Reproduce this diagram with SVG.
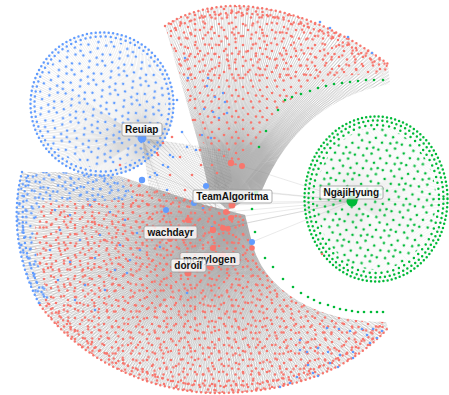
<svg xmlns="http://www.w3.org/2000/svg" width="449" height="395" viewBox="0 0 449 395">
<style>
  .fan{fill:none;stroke:#808080;stroke-opacity:.3}
  .gfan{fill:none;stroke:#8a8a8a;stroke-opacity:.17}
  .rim{fill:none;stroke-width:2.5;stroke-linecap:round}
  .edge{stroke:#8a8a8a;stroke-opacity:.4;stroke-width:.45}
  .r{fill:#F8766D} .b{fill:#619CFF} .g{fill:#00BA38}
  .rs{stroke:#F8766D} .bs{stroke:#619CFF} .gs{stroke:#00BA38}
  .lbl rect{fill:#fff;fill-opacity:.78;stroke:#9a9a9a;stroke-width:.8}
  .lbl text{font-family:"Liberation Sans",Arial,sans-serif;font-size:10px;font-weight:bold;fill:#111}
</style>
<defs>
  <!-- irregular dot tiles -->
  <g id="dA"><circle cx="3" cy="3" r="1.3"/><circle cx="13" cy="2.5" r="1.3"/><circle cx="20" cy="6" r="1.3"/><circle cx="8" cy="9" r="1.3"/><circle cx="16" cy="11.5" r="1.3"/><circle cx="22.5" cy="12" r="1.3"/><circle cx="3" cy="15" r="1.3"/><circle cx="11" cy="17.5" r="1.3"/><circle cx="19.5" cy="17.5" r="1.3"/></g>
  <g id="dB"><circle cx="5" cy="4" r="1.3"/><circle cx="17" cy="2.5" r="1.3"/><circle cx="26" cy="8" r="1.3"/><circle cx="19" cy="8" r="1.3"/><circle cx="11" cy="12" r="1.3"/><circle cx="22" cy="15" r="1.3"/><circle cx="8" cy="17.5" r="1.3"/><circle cx="3.5" cy="22" r="1.3"/><circle cx="14" cy="24" r="1.3"/><circle cx="28" cy="23.5" r="1.3"/></g>
  <pattern id="pAr" width="24" height="21" patternUnits="userSpaceOnUse"><use href="#dA" fill="#F8766D"/></pattern>
  <pattern id="pBr" width="31" height="27" patternUnits="userSpaceOnUse" patternTransform="rotate(13)"><use href="#dB" fill="#F8766D"/></pattern>
  <pattern id="pAb" width="24" height="21" patternUnits="userSpaceOnUse" patternTransform="rotate(25)"><use href="#dA" fill="#619CFF"/></pattern>
  <pattern id="pBb" width="31" height="27" patternUnits="userSpaceOnUse" patternTransform="rotate(-8)"><use href="#dB" fill="#619CFF"/></pattern>
  <pattern id="pAg" width="24" height="21" patternUnits="userSpaceOnUse" patternTransform="rotate(-12)"><use href="#dA" fill="#00BA38"/></pattern>

  <clipPath id="cTop"><path d="M165,26 C185,12 215,5 240,6 C280,8 330,22 388,64 L386,74 Q295,70 260,138 L238,166 L224,162 L200,140 Z"/></clipPath>
  <clipPath id="cTopE"><path d="M165,26 C185,12 215,5 240,6 C280,8 330,22 388,64 L390,84 Q300,100 262,190 L250,198 L228,210 L210,195 L198,142 Z"/></clipPath>
  <clipPath id="cLow"><path d="M22,172 C12,210 15,260 40,305 C80,360 150,392 215,393 C290,393 350,370 388,328 L386,322 Q335,322 300,302 Q258,278 250,235 L245,215 L205,205 L160,190 L120,176 L60,172 Z"/></clipPath>
  <clipPath id="cLowRed"><path clip-rule="evenodd" d="M22,172 C12,210 15,260 40,305 C80,360 150,392 215,393 C290,393 350,370 388,328 L386,322 Q335,322 300,302 Q258,278 250,235 L245,215 L205,205 L160,190 L120,176 L60,172 Z M22,172 C12,210 15,260 40,305 L50,298 C34,262 30,228 42,202 L135,200 L120,176 L60,172 Z"/></clipPath>
  <clipPath id="cBlueZone"><path d="M22,172 C12,210 15,260 40,305 L50,298 C34,262 30,228 42,202 L135,200 L120,176 L60,172 Z"/></clipPath>
  <clipPath id="cBridge"><path d="M142,138 L228,150 L236,214 L150,196 Z"/></clipPath>
  <clipPath id="cReu"><circle cx="102" cy="104" r="72"/></clipPath>
  <clipPath id="cReuIn"><circle cx="102" cy="104" r="64"/></clipPath>
  <clipPath id="cNga"><ellipse cx="376" cy="199" rx="72" ry="83"/></clipPath>
  <clipPath id="cNgaIn"><ellipse cx="376" cy="199" rx="60" ry="71"/></clipPath>
</defs>

<rect width="449" height="395" fill="#fff"/>

<!-- connectors -->
<g id="edges">
  <g clip-path="url(#cTopE)">
    <circle class="fan" cx="232" cy="165" r="96" stroke-width="192" stroke-dasharray="0.4 1.1"/>
    <circle class="fan" cx="227" cy="205" r="106" stroke-width="212" stroke-dasharray="0.4 1.0"/>
    <circle class="fan" cx="242" cy="167" r="95" stroke-width="190" stroke-dasharray="0.4 1.3"/>
  </g>
  <g clip-path="url(#cLow)">
    <circle class="fan" cx="188" cy="273" r="105" stroke-width="210" stroke-dasharray="0.4 1.1"/>
    <circle class="fan" cx="225" cy="215" r="106" stroke-width="212" stroke-dasharray="0.4 1.2"/>
    <circle class="fan" cx="252" cy="245" r="121" stroke-width="242" stroke-dasharray="0.4 1.3"/>
    <circle class="fan" cx="194" cy="203" r="116" stroke-width="232" stroke-dasharray="0.4 1.4"/>
  </g>
  <g clip-path="url(#cBridge)">
    <circle class="fan" cx="142" cy="138" r="50" stroke-width="100" stroke-dasharray="0.4 1.2"/>
    <circle class="fan" cx="215" cy="200" r="45" stroke-width="90" stroke-dasharray="0.4 1.5"/>
  </g>
  <g clip-path="url(#cReu)">
    <circle class="fan" cx="142" cy="138" r="66" stroke-width="132" stroke-dasharray="0.3 0.9"/>
  </g>
  <g clip-path="url(#cNga)">
    <circle class="gfan" cx="352" cy="201" r="54" stroke-width="108" stroke-dasharray="0.3 0.7"/>
  </g>
  <g class="edge">
    <line x1="231" y1="218" x2="352" y2="201"/><line x1="226" y1="212" x2="352" y2="201"/>
    <line x1="252" y1="242" x2="352" y2="201"/><line x1="242" y1="166" x2="352" y2="201"/>
    <line x1="213" y1="230" x2="352" y2="201"/><line x1="194" y1="203" x2="352" y2="201"/>
    <line x1="206" y1="186" x2="352" y2="201"/><line x1="256" y1="192" x2="352" y2="201"/>
    <line x1="232" y1="205" x2="352" y2="201"/><line x1="223" y1="228" x2="352" y2="201"/>
    <line x1="188" y1="273" x2="142" y2="138"/><line x1="232" y1="205" x2="185" y2="58"/>
    <line x1="232" y1="205" x2="182" y2="132"/><line x1="226" y1="212" x2="163" y2="165"/>
    <line x1="232" y1="205" x2="157" y2="175"/><line x1="226" y1="212" x2="188" y2="78"/>
  </g>
</g>

<!-- dot fields -->
<g id="fields">
  <g clip-path="url(#cTop)"><rect x="160" y="0" width="230" height="170" fill="url(#pAr)"/><rect x="160" y="0" width="230" height="80" fill="url(#pBr)"/></g>
  <g clip-path="url(#cLowRed)"><rect x="10" y="165" width="385" height="230" fill="url(#pAr)"/><rect x="10" y="165" width="385" height="230" fill="url(#pBr)"/></g>
  <g clip-path="url(#cBlueZone)"><rect x="10" y="165" width="130" height="145" fill="url(#pAb)"/><rect x="10" y="165" width="130" height="145" fill="url(#pBb)"/></g>
  <g clip-path="url(#cReuIn)"><rect x="30" y="30" width="145" height="145" fill="url(#pAb)"/></g>
  <g clip-path="url(#cNgaIn)"><rect x="300" y="115" width="149" height="170" fill="url(#pAg)"/></g>

  <path class="rim rs" stroke-dasharray="0 4.6" d="M165,26 C185,12 215,5 240,6 C280,8 330,22 388,64"/>
  <path class="rim rs" stroke-dasharray="0 5.3" d="M171,31 C190,18 216,12 240,13 C279,15 327,28 381,66"/>
  <path class="rim rs" stroke-dasharray="0 4.6" d="M40,305 C80,360 150,392 215,393 C290,393 350,370 388,328"/>
  <path class="rim rs" stroke-dasharray="0 5.3" d="M46,300 C85,353 152,385 215,386 C287,386 345,364 381,325"/>
  <path class="rim bs" stroke-dasharray="0 4.5" d="M22,172 C12,210 15,260 40,305"/>
  <path class="rim bs" stroke-dasharray="0 5.2" d="M28,176 C18,212 21,258 46,300"/>
  <circle class="rim bs" cx="102" cy="104" r="71.5" stroke-dasharray="0 4.4"/>
  <circle class="rim bs" cx="102" cy="104" r="67.5" stroke-dasharray="0 5.1"/>
  <ellipse class="rim gs" cx="376" cy="199" rx="71.5" ry="82.5" stroke-dasharray="0 4.2"/>
  <ellipse class="rim gs" cx="376" cy="199" rx="67.5" ry="78.5" stroke-dasharray="0 4.8"/>
  <ellipse class="rim gs" cx="376" cy="199" rx="63" ry="74" stroke-dasharray="0 6"/>
</g>

<!-- scattered single dots -->
<g id="scatter-red" class="r">
  <circle cx="158" cy="155" r="1.3"/><circle cx="180" cy="157" r="1.3"/><circle cx="201" cy="165" r="1.3"/><circle cx="212" cy="165" r="1.3"/>
  <circle cx="217" cy="173" r="1.3"/><circle cx="192" cy="175" r="1.3"/><circle cx="170" cy="175" r="1.3"/><circle cx="137" cy="195" r="1.3"/>
  <circle cx="148" cy="205" r="1.3"/><circle cx="133" cy="203" r="1.3"/><circle cx="170" cy="222" r="1.3"/><circle cx="140" cy="227" r="1.3"/>
  <circle cx="150" cy="217" r="1.3"/><circle cx="183" cy="240" r="1.3"/><circle cx="215" cy="223" r="1.3"/><circle cx="233" cy="235" r="1.3"/>
  <circle cx="243" cy="220" r="1.3"/><circle cx="247" cy="250" r="1.3"/><circle cx="240" cy="260" r="1.3"/><circle cx="257" cy="267" r="1.3"/>
  <circle cx="227" cy="273" r="1.3"/><circle cx="167" cy="250" r="1.3"/><circle cx="153" cy="260" r="1.3"/><circle cx="163" cy="270" r="1.3"/>
  <circle cx="213" cy="268" r="1.3"/><circle cx="163" cy="143" r="1.3"/><circle cx="172" cy="137" r="1.3"/><circle cx="157" cy="153" r="1.3"/>
  <circle cx="322" cy="254" r="1.3"/><circle cx="200" cy="150" r="1.3"/><circle cx="185" cy="190" r="1.3"/><circle cx="120" cy="165" r="1.3"/>
  <circle cx="60" cy="215" r="1.3"/><circle cx="75" cy="228" r="1.3"/><circle cx="92" cy="222" r="1.3"/><circle cx="105" cy="240" r="1.3"/>
  <circle cx="65" cy="250" r="1.3"/><circle cx="88" cy="268" r="1.3"/><circle cx="118" cy="230" r="1.3"/><circle cx="48" cy="268" r="1.3"/>
  <circle cx="193" cy="120" r="1.3"/><circle cx="190" cy="100" r="1.3"/>
</g>
<g id="scatter-blue" class="b">
  <circle cx="170" cy="155" r="1.3"/><circle cx="155" cy="173" r="1.3"/><circle cx="150" cy="177" r="1.3"/><circle cx="168" cy="167" r="1.3"/>
  <circle cx="203" cy="208" r="1.3"/><circle cx="212" cy="227" r="1.3"/><circle cx="137" cy="233" r="1.3"/><circle cx="160" cy="247" r="1.3"/>
  <circle cx="130" cy="165" r="1.3"/><circle cx="167" cy="190" r="1.3"/><circle cx="185" cy="58" r="1.3"/><circle cx="188" cy="78" r="1.3"/>
  <circle cx="182" cy="132" r="1.3"/><circle cx="187" cy="147" r="1.3"/><circle cx="173" cy="157" r="1.3"/><circle cx="163" cy="165" r="1.3"/>
  <circle cx="157" cy="175" r="1.3"/><circle cx="177" cy="100" r="1.3"/><circle cx="208" cy="78" r="1.3"/><circle cx="207" cy="86" r="1.3"/>
  <circle cx="223" cy="93" r="1.3"/><circle cx="215" cy="97" r="1.3"/><circle cx="225" cy="102" r="1.3"/><circle cx="204" cy="109" r="1.3"/>
  <circle cx="213" cy="112" r="1.3"/><circle cx="219" cy="118" r="1.3"/><circle cx="227" cy="113" r="1.3"/><circle cx="202" cy="135" r="1.3"/>
  <circle cx="211" cy="138" r="1.3"/><circle cx="330" cy="28" r="1.3"/><circle cx="348" cy="37" r="1.3"/><circle cx="372" cy="53" r="1.3"/>
  <circle cx="320" cy="22" r="1.3"/><circle cx="196" cy="150" r="1.3"/>
  <circle cx="327" cy="328" r="1.3"/><circle cx="339" cy="329" r="1.3"/><circle cx="350" cy="331" r="1.3"/><circle cx="362" cy="329" r="1.3"/>
  <circle cx="373" cy="329" r="1.3"/><circle cx="382" cy="331" r="1.3"/><circle cx="377" cy="338" r="1.3"/><circle cx="370" cy="343" r="1.3"/>
  <circle cx="367" cy="335" r="1.3"/><circle cx="353" cy="352" r="1.3"/><circle cx="340" cy="355" r="1.3"/><circle cx="328" cy="352" r="1.3"/>
  <circle cx="318" cy="348" r="1.3"/><circle cx="307" cy="352" r="1.3"/><circle cx="300" cy="350" r="1.3"/><circle cx="313" cy="373" r="1.3"/>
  <circle cx="318" cy="376" r="1.3"/><circle cx="297" cy="377" r="1.3"/><circle cx="290" cy="383" r="1.3"/><circle cx="280" cy="387" r="1.3"/>
  <circle cx="308" cy="365" r="1.3"/><circle cx="300" cy="340" r="1.3"/><circle cx="338" cy="367" r="1.3"/><circle cx="353" cy="358" r="1.3"/>
  <circle cx="330" cy="363" r="1.3"/><circle cx="55" cy="210" r="1.3"/><circle cx="70" cy="215" r="1.3"/><circle cx="90" cy="205" r="1.3"/>
  <circle cx="110" cy="212" r="1.3"/><circle cx="125" cy="220" r="1.3"/><circle cx="60" cy="230" r="1.3"/><circle cx="80" cy="240" r="1.3"/>
  <circle cx="100" cy="235" r="1.3"/><circle cx="120" cy="245" r="1.3"/><circle cx="50" cy="250" r="1.3"/><circle cx="70" cy="262" r="1.3"/>
  <circle cx="95" cy="258" r="1.3"/><circle cx="115" cy="270" r="1.3"/><circle cx="58" cy="280" r="1.3"/><circle cx="85" cy="285" r="1.3"/>
  <circle cx="105" cy="290" r="1.3"/><circle cx="130" cy="260" r="1.3"/><circle cx="140" cy="250" r="1.3"/><circle cx="75" cy="300" r="1.3"/>
  <circle cx="95" cy="310" r="1.3"/><circle cx="127" cy="273" r="1.3"/><circle cx="187" cy="293" r="1.3"/>
</g>
<g id="scatter-green" class="g">
  <circle cx="259" cy="147" r="1.3"/><circle cx="266" cy="131" r="1.3"/><circle cx="278" cy="110" r="1.3"/><circle cx="285" cy="100" r="1.3"/>
  <circle cx="292" cy="97" r="1.3"/><circle cx="301" cy="94" r="1.3"/><circle cx="310" cy="91" r="1.3"/><circle cx="318" cy="88" r="1.3"/>
  <circle cx="326" cy="86" r="1.3"/><circle cx="334" cy="84" r="1.3"/><circle cx="342" cy="83" r="1.3"/><circle cx="350" cy="82" r="1.3"/>
  <circle cx="358" cy="81" r="1.3"/><circle cx="366" cy="80" r="1.3"/><circle cx="374" cy="80" r="1.3"/><circle cx="383" cy="80" r="1.3"/>
  <circle cx="252" cy="209" r="1.3"/><circle cx="255" cy="232" r="1.3"/><circle cx="265" cy="258" r="1.3"/><circle cx="273" cy="267" r="1.3"/>
  <circle cx="283" cy="279" r="1.3"/><circle cx="293" cy="287" r="1.3"/><circle cx="301" cy="293" r="1.3"/><circle cx="308" cy="297" r="1.3"/>
  <circle cx="314" cy="300" r="1.3"/><circle cx="320" cy="303" r="1.3"/><circle cx="328" cy="305" r="1.3"/><circle cx="334" cy="307" r="1.3"/>
  <circle cx="340" cy="309" r="1.3"/><circle cx="346" cy="310" r="1.3"/><circle cx="352" cy="311" r="1.3"/><circle cx="358" cy="312" r="1.3"/>
  <circle cx="364" cy="312" r="1.3"/><circle cx="371" cy="312" r="1.3"/><circle cx="377" cy="312" r="1.3"/><circle cx="383" cy="312" r="1.3"/>
  <circle cx="256" cy="193" r="2.3"/>
</g>

<!-- mid-sized nodes -->
<g id="mid-nodes">
  <g class="r">
    <circle cx="231" cy="163" r="3.2"/><circle cx="242" cy="166" r="3"/><circle cx="226" cy="212" r="3"/><circle cx="231" cy="218" r="3"/>
    <circle cx="188" cy="220" r="3"/><circle cx="213" cy="230" r="3.2"/><circle cx="223" cy="228" r="3"/><circle cx="228" cy="229" r="2.8"/>
    <circle cx="213" cy="248" r="3"/><circle cx="252" cy="248" r="2.8"/><circle cx="223" cy="255" r="3.2"/>
  </g>
  <g class="b">
    <circle cx="142" cy="180" r="3.2"/><circle cx="206" cy="186" r="3"/><circle cx="194" cy="203" r="3"/><circle cx="166" cy="210" r="3"/><circle cx="252" cy="242" r="3"/>
  </g>
</g>

<!-- labelled nodes -->
<g id="node-Reuiap" class="lbl">
  <circle class="b" cx="142" cy="138" r="4.5"/>
  <rect x="122" y="123" width="40" height="13" rx="2"/>
  <text x="125" y="133">Reuiap</text>
</g>
<g id="node-NgajiHyung" class="lbl">
  <circle class="g" cx="352" cy="201" r="5.5"/>
  <rect x="320" y="186" width="63" height="13" rx="2"/>
  <text x="323.5" y="196">NgajiHyung</text>
</g>
<g id="node-TeamAlgoritma" class="lbl">
  <circle class="r" cx="232" cy="205" r="3.5"/>
  <rect x="193" y="190" width="79" height="13" rx="2"/>
  <text x="196.3" y="200">TeamAlgoritma</text>
</g>
<g id="node-wachdayr" class="lbl">
  <circle class="r" cx="170" cy="239" r="3"/>
  <rect x="144" y="226" width="53" height="13" rx="2"/>
  <text x="147.5" y="236">wachdayr</text>
</g>
<g id="node-megylogen" class="lbl">
  <circle class="r" cx="210" cy="267" r="3"/>
  <rect x="180" y="252.5" width="60" height="13" rx="2"/>
  <text x="183" y="262.5">megylogen</text>
</g>
<g id="node-doroil" class="lbl">
  <circle class="r" cx="188" cy="273" r="3.5"/>
  <rect x="171" y="259" width="35" height="13" rx="2"/>
  <text x="174.3" y="269">doroil</text>
</g>
</svg>
